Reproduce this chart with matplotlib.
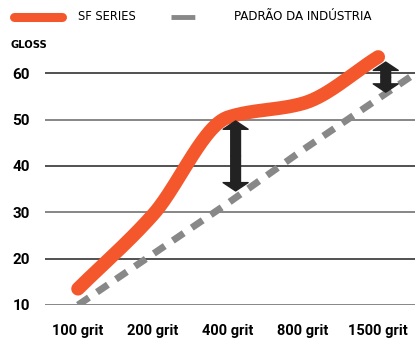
import matplotlib
matplotlib.use('Agg')
import matplotlib.pyplot as plt
from matplotlib.lines import Line2D
import numpy as np

# data
grits = ['100 grit', '200 grit', '400 grit', '800 grit', '1500 grit']
sf_series = [13.5, 29.5, 50.5, 53.5, 63.5]
padrao = [10.0, 21.0, 32.0, 43.5, 54.5]
yticks = [10, 20, 30, 40, 50, 60]
# gaps marked with arrows (grit index, low, high)
gaps = [(2, 34.6, 49.7), (4, 55.9, 62.4)]

ORANGE = '#f4572b'
GRAY = '#888888'


def smooth(x, y, n=200):
    # monotone cubic (Fritsch-Carlson) just for drawing the curve
    x = np.asarray(x, float)
    y = np.asarray(y, float)
    h = np.diff(x)
    d = np.diff(y) / h
    m = np.zeros_like(y)
    m[0], m[-1] = d[0], d[-1]
    for i in range(1, len(y) - 1):
        if d[i - 1] * d[i] > 0:
            m[i] = 2 * d[i - 1] * d[i] / (d[i - 1] + d[i])
    xs = np.linspace(x[0], x[-1], n)
    idx = np.clip(np.searchsorted(x, xs) - 1, 0, len(h) - 1)
    t = (xs - x[idx]) / h[idx]
    h00 = 2 * t**3 - 3 * t**2 + 1
    h10 = t**3 - 2 * t**2 + t
    h01 = -2 * t**3 + 3 * t**2
    h11 = t**3 - t**2
    ys = h00 * y[idx] + h10 * h[idx] * m[idx] + h01 * y[idx + 1] + h11 * h[idx] * m[idx + 1]
    return xs, ys


fig = plt.figure(figsize=(4.15, 3.4), dpi=100)
ax = fig.add_axes([45 / 415, 35 / 340, 370 / 415, 255 / 340])

x = np.arange(len(grits))
ax.set_xlim(-0.44, 4.49)
ax.set_ylim(10, 65)

for yv in yticks:
    ax.axhline(yv, color='#222222' if yv % 20 == 0 else '#666666', lw=1.1, zorder=1)

# industry line, extended to the right edge along its last slope
slope = padrao[-1] - padrao[-2]
px = list(x) + [4.6]
py = padrao + [padrao[-1] + slope * 0.6]
ax.plot(px, py, color=GRAY, lw=5, dashes=(1.9, 1.4), solid_capstyle='butt', zorder=2)

xs, ys = smooth(x, sf_series)
ax.plot(xs, ys, color=ORANGE, lw=9.8, solid_capstyle='round', zorder=3, clip_on=False)

for gi, lo, hi in gaps:
    xm = gi + 0.1
    mid = (lo + hi) / 2
    for end in (lo, hi):
        ax.annotate('', xy=(xm, end), xytext=(xm, mid),
                    arrowprops=dict(arrowstyle='simple,head_length=0.6,head_width=1.8,tail_width=0.7',
                                    mutation_scale=10, color='#222222', shrinkA=0, shrinkB=0),
                    zorder=4)

ax.set_xticks(x)
ax.set_xticklabels(grits, fontsize=10.5, fontweight='bold', family='Roboto')
ax.set_yticks(yticks)
ax.set_yticklabels([str(v) for v in yticks], fontsize=11, fontweight='bold', family='Roboto')
ax.tick_params(length=0)
ax.tick_params(axis='x', pad=14)
ax.tick_params(axis='y', pad=11)
for s in ax.spines.values():
    s.set_visible(False)

fig.text(10 / 415, 1 - 45 / 340, 'GLOSS', fontsize=8, fontweight='bold', family='DejaVu Sans',
         stretch='condensed', va='center')

# legend
fig.add_artist(Line2D([14 / 415, 62 / 415], [1 - 17 / 340] * 2, color=ORANGE, lw=6.5,
                      solid_capstyle='round', transform=fig.transFigure))
fig.add_artist(Line2D([171 / 415, 218 / 415], [1 - 17 / 340] * 2, color=GRAY, lw=3.5,
                      dashes=(4.9, 4.8), transform=fig.transFigure))
fig.text(78 / 415, 1 - 17 / 340, 'SF SERIES', fontsize=9.2, family='DejaVu Sans',
         stretch='condensed', va='center')
fig.text(234 / 415, 1 - 17 / 340, 'PADRÃO DA INDÚSTRIA', fontsize=9.5, family='DejaVu Sans',
         stretch='condensed', va='center')

fig.savefig('out.png', dpi=100)
